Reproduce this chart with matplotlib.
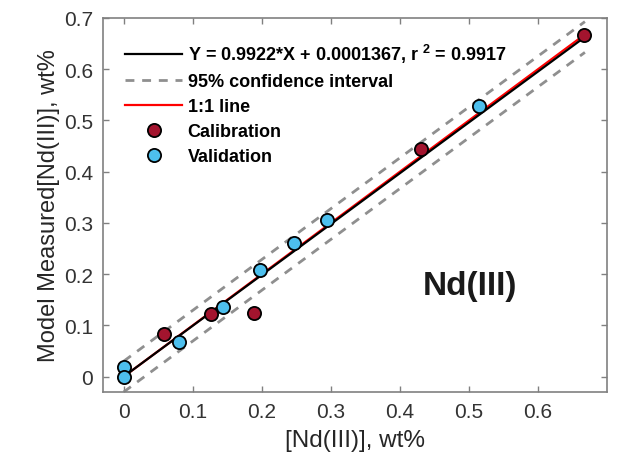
import numpy as np
import matplotlib
matplotlib.use("Agg")
import matplotlib.pyplot as plt

plt.rcParams['font.family'] = ['Liberation Sans', 'DejaVu Sans']
plt.rcParams['mathtext.fontset'] = 'custom'
plt.rcParams['mathtext.bf'] = 'Liberation Sans:bold'
plt.rcParams['mathtext.rm'] = 'Liberation Sans:bold'
plt.rcParams['mathtext.default'] = 'bf'

# Calibration and validation points
cal_x = [0.059, 0.127, 0.189, 0.431, 0.667]
cal_y = [0.084, 0.123, 0.125, 0.444, 0.667]
val_x = [0.0, 0.0, 0.080, 0.144, 0.198, 0.247, 0.295, 0.515]
val_y = [0.019, 0.0, 0.068, 0.136, 0.209, 0.261, 0.306, 0.528]

slope = 0.9922
intercept = 0.0001367
r2 = 0.9917
ci_half = 0.03
line_x = [0.0, 0.668]

cal_color = '#A3142E'
val_color = '#4DBFED'

fig = plt.figure(figsize=(6.21, 4.64), dpi=100)
ax = fig.add_axes([103 / 621, 1 - 393 / 464, 504 / 621, 374 / 464])

lx = np.array(line_x)
fit_y = slope * lx + intercept

ax.plot(lx, lx, color='red', lw=1.6, zorder=2)
ax.plot(lx, fit_y, color='black', lw=1.6, zorder=3,
        label=f'Y = {slope}*X + {intercept}, r $^2$ = {r2}')
ax.plot(lx, fit_y + ci_half, color='#8f8f8f', lw=2.0, ls=(0, (3.2, 2.8)), zorder=2,
        label='95% confidence interval')
ax.plot(lx, fit_y - ci_half, color='#8f8f8f', lw=2.0, ls=(0, (3.2, 2.8)), zorder=2)
ax.plot([], [], color='red', lw=1.6, label='1:1 line')
ax.plot(cal_x, cal_y, 'o', ms=9.5, mfc=cal_color, mec='black', mew=1.3,
        zorder=4, label='Calibration')
ax.plot(val_x, val_y, 'o', ms=9.5, mfc=val_color, mec='black', mew=1.3,
        zorder=4, label='Validation')

ax.set_xlim(-0.03, 0.7)
ax.set_ylim(-0.03, 0.7)
ax.set_xticks(np.arange(0, 0.61, 0.1))
ax.set_yticks(np.arange(0, 0.71, 0.1))
ax.set_xticklabels(['0', '0.1', '0.2', '0.3', '0.4', '0.5', '0.6'])
ax.set_yticklabels(['0', '0.1', '0.2', '0.3', '0.4', '0.5', '0.6', '0.7'])
ax.tick_params(direction='in', length=4, width=1, colors='#808080',
               labelcolor='#333333', labelsize=15, top=True, right=True, pad=7)
for s in ax.spines.values():
    s.set_color('#808080')
    s.set_linewidth(1.2)

ax.set_xlabel('[Nd(III)], wt%', fontsize=17.5, color='#262626', labelpad=6)
ax.set_ylabel('Model Measured[Nd(III)], wt%', fontsize=17, color='#262626', labelpad=3)

leg = ax.legend(loc='upper left', bbox_to_anchor=(0.030, 0.955), borderaxespad=0,
                frameon=False, handlelength=3.15, handletextpad=0.3, numpoints=1,
                prop={'weight': 'bold', 'size': 13}, labelspacing=0.44)

ax.text(0.502, 0.177, 'Nd(III)', fontsize=24, fontweight='bold', color='#1a1a1a',
        ha='center', va='center')

fig.savefig('out.png', dpi=100)
